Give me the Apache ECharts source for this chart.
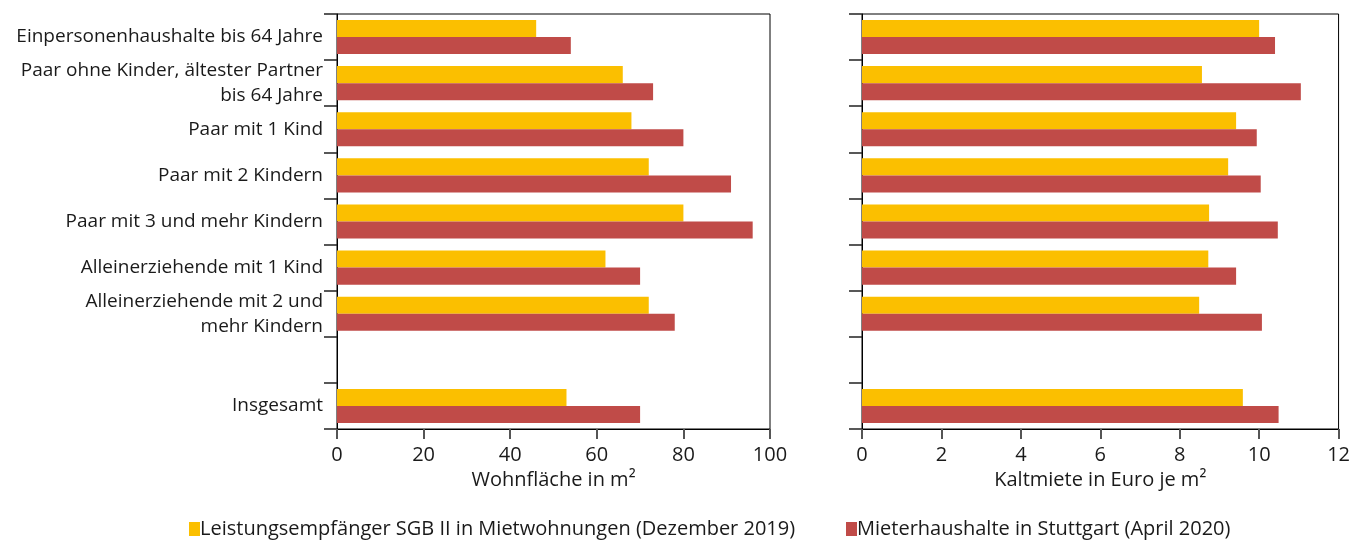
<!DOCTYPE html>
<html>
<head>
<meta charset="utf-8">
<script src="https://cdn.jsdelivr.net/npm/echarts@6/dist/echarts.min.js"></script>
<style>html,body{margin:0;padding:0;background:#fff;}#c{width:1353px;height:541px;}</style>
</head>
<body>
<div id="c"></div>
<script>
const categories = [
  'Einpersonenhaushalte bis 64 Jahre',
  'Paar ohne Kinder, ältester Partner\nbis 64 Jahre',
  'Paar mit 1 Kind',
  'Paar mit 2 Kindern',
  'Paar mit 3 und mehr Kindern',
  'Alleinerziehende mit 1 Kind',
  'Alleinerziehende mit 2 und\nmehr Kindern',
  '',
  'Insgesamt'
];
const seriesNames = ['Leistungsempfänger SGB II in Mietwohnungen (Dezember 2019)', 'Mieterhaushalte in Stuttgart (April 2020)'];
const flaecheSGB = [46, 66, 68, 72, 80, 62, 72, null, 53];
const flaecheStgt = [54, 73, 80, 91, 96, 70, 78, null, 70];
const mieteSGB = [10.0, 8.56, 9.42, 9.22, 8.74, 8.72, 8.49, null, 9.59];
const mieteStgt = [10.4, 11.05, 9.94, 10.04, 10.47, 9.42, 10.07, null, 10.49];
const xTicksLeft = {min: 0, max: 100, interval: 20};
const xTicksRight = {min: 0, max: 12, interval: 2};

const YEL = '#FBBF00', RED = '#C04B48';
const FONT = 'Open Sans';
const txt = {color: '#1a1a1a', fontFamily: FONT, fontSize: 20};

function xAxis(idx, t, name) {
  return {
    type: 'value', gridIndex: idx, min: t.min, max: t.max, interval: t.interval,
    name: name, nameLocation: 'middle', nameGap: 40,
    nameTextStyle: Object.assign({}, txt, {fontSize: 20}),
    axisLine: {show: true, lineStyle: {color: '#000', width: 1}},
    axisTick: {show: true, length: 10, lineStyle: {color: '#555', width: 2}},
    axisLabel: Object.assign({}, txt, {margin: 16}),
    splitLine: {show: false}
  };
}
function yAxis(idx, showLabels) {
  return {
    type: 'category', gridIndex: idx, data: categories, inverse: true,
    axisLine: {show: true, lineStyle: {color: '#000', width: 1}},
    axisTick: {show: true, length: 13, lineStyle: {color: '#222', width: 1.5}},
    axisLabel: Object.assign({}, txt, {fontSize: 19, show: showLabels, margin: 14, lineHeight: 25, align: 'right'}),
    splitLine: {show: false}
  };
}
function bar(name, data, idx, color) {
  return {
    type: 'bar', name: name, data: data, xAxisIndex: idx, yAxisIndex: idx,
    itemStyle: {color: color}, barGap: '0%', barCategoryGap: '26%', silent: true
  };
}

const chart = echarts.init(document.getElementById('c'), null, {renderer: 'canvas'});
chart.setOption({
  animation: false,
  backgroundColor: '#fff',
  grid: [
    {left: 337, right: 583, top: 14, bottom: 112, show: true, borderColor: '#000', borderWidth: 1},
    {left: 862, right: 12, top: 14, bottom: 112, show: true, borderColor: '#000', borderWidth: 1}
  ],
  xAxis: [xAxis(0, xTicksLeft, 'Wohnfläche in m²'), xAxis(1, xTicksRight, 'Kaltmiete in Euro je m²')],
  yAxis: [yAxis(0, true), yAxis(1, false)],
  legend: [
    {data: [seriesNames[0]], left: 184, top: 514, icon: 'rect', itemWidth: 11, itemHeight: 14, itemGap: 4,
     textStyle: Object.assign({}, txt, {padding: [0, 0, 0, -5]})},
    {data: [seriesNames[1]], left: 841, top: 514, icon: 'rect', itemWidth: 11, itemHeight: 14, itemGap: 4,
     textStyle: Object.assign({}, txt, {padding: [0, 0, 0, -5]})}
  ],
  series: [
    bar(seriesNames[0], flaecheSGB, 0, YEL),
    bar(seriesNames[1], flaecheStgt, 0, RED),
    bar(seriesNames[0], mieteSGB, 1, YEL),
    bar(seriesNames[1], mieteStgt, 1, RED)
  ]
});
</script>
</body>
</html>
